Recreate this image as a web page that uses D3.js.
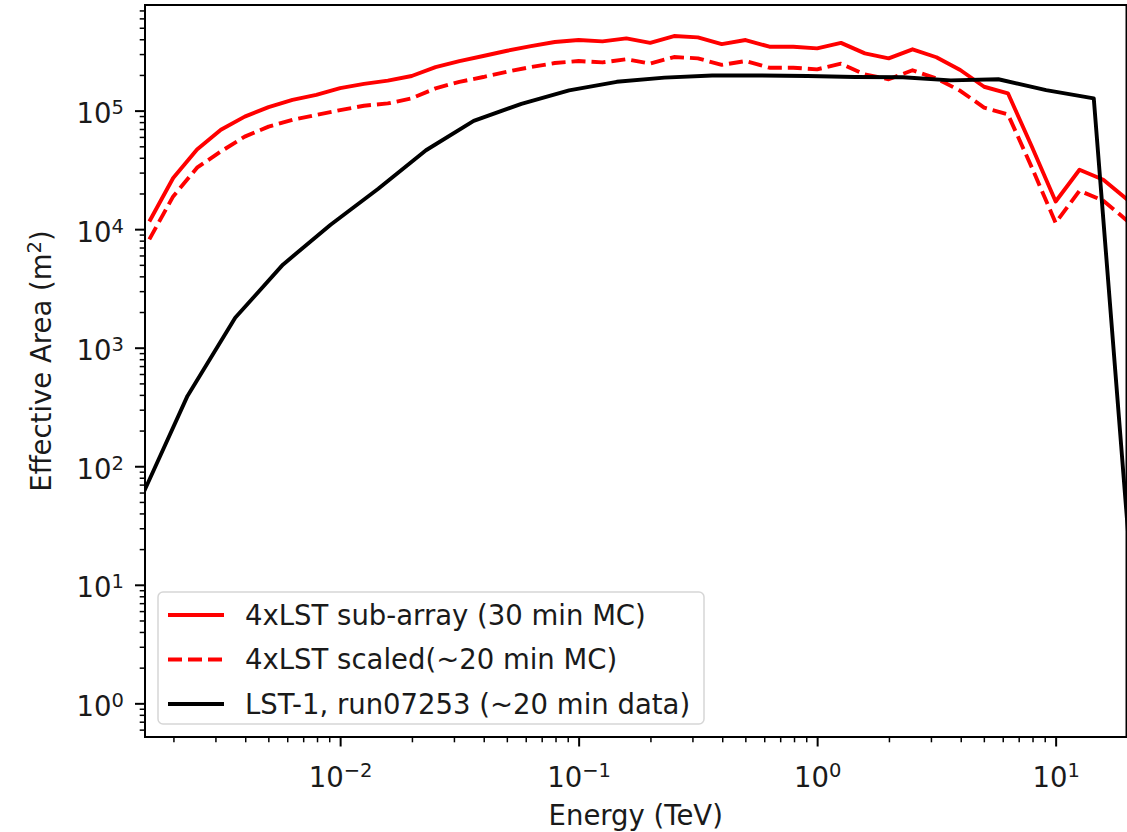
<!DOCTYPE html>
<html>
<head>
<meta charset="utf-8">
<script src="https://cdn.jsdelivr.net/npm/d3@7"></script>
<style>
    body { margin: 0; background: #fff; }
    svg { display: block; }
    text { font-family: "DejaVu Sans", sans-serif; fill: #1a1a1a; }
</style>
</head>
<body>
<div id="chart"></div>
<script>
// Energy bins of the MC curves (TeV)
const energyMC = [0.001585, 0.001995, 0.002512, 0.003162, 0.003981, 0.005012, 0.00631, 0.007943,
    0.01, 0.01259, 0.01585, 0.01995, 0.02512, 0.03162, 0.03981, 0.05012, 0.0631, 0.07943,
    0.1, 0.1259, 0.1585, 0.1995, 0.2512, 0.3162, 0.3981, 0.5012, 0.631, 0.7943,
    1.0, 1.259, 1.585, 1.995, 2.512, 3.162, 3.981, 5.012, 6.31, 7.943,
    10.0, 12.59, 15.85, 19.95];
// 4xLST sub-array (30 min MC), m^2
const areaMC30 = [1.16e4, 2.7e4, 4.7e4, 6.9e4, 8.9e4, 1.07e5, 1.23e5, 1.36e5,
    1.55e5, 1.68e5, 1.79e5, 1.96e5, 2.33e5, 2.62e5, 2.89e5, 3.2e5, 3.5e5, 3.79e5,
    3.94e5, 3.84e5, 4.07e5, 3.73e5, 4.26e5, 4.15e5, 3.64e5, 3.94e5, 3.46e5, 3.46e5,
    3.35e5, 3.73e5, 3.04e5, 2.76e5, 3.29e5, 2.82e5, 2.2e5, 1.59e5, 1.4e5, 4.98e4,
    1.71e4, 3.17e4, 2.61e4, 1.78e4];
// 4xLST scaled (~20 min MC), m^2
const areaMC20 = [8.2e3, 1.89e4, 3.3e4, 4.52e4, 6.04e4, 7.33e4, 8.35e4, 9.2e4,
    1.01e5, 1.1e5, 1.15e5, 1.27e5, 1.54e5, 1.75e5, 1.92e5, 2.13e5, 2.33e5, 2.52e5,
    2.62e5, 2.55e5, 2.71e5, 2.49e5, 2.83e5, 2.76e5, 2.43e5, 2.62e5, 2.3e5, 2.3e5,
    2.23e5, 2.49e5, 2.02e5, 1.84e5, 2.19e5, 1.87e5, 1.47e5, 1.06e5, 9.3e4, 3.32e4,
    1.13e4, 2.11e4, 1.74e4, 1.18e4];
// LST-1 run07253 data
const energyData = [0.001445, 0.002291, 0.003631, 0.005754, 0.00912, 0.01445, 0.02291, 0.03631,
    0.05754, 0.0912, 0.1445, 0.2291, 0.3631, 0.5754, 0.912, 1.445, 2.291, 3.631,
    5.754, 9.12, 14.45, 22.91];
const areaData = [51, 392, 1790, 5020, 1.09e4, 2.19e4, 4.63e4, 8.2e4,
    1.14e5, 1.48e5, 1.75e5, 1.9e5, 1.98e5, 1.98e5, 1.96e5, 1.92e5, 1.91e5, 1.8e5,
    1.84e5, 1.49e5, 1.27e5, 1.0];

const xDomain = [0.00152, 19.82];
const yDomain = [0.52, 7.78e5];
const xMajor = [1e-2, 1e-1, 1e0, 1e1];
const xMajorExp = ["\u22122", "\u22121", "0", "1"];
const yMajor = [1e0, 1e1, 1e2, 1e3, 1e4, 1e5];
const yMajorExp = ["0", "1", "2", "3", "4", "5"];

const series = [
    { label: "4xLST sub-array (30 min MC)", x: energyMC, y: areaMC30, color: "#ff0000", dash: null },
    { label: "4xLST scaled(~20 min MC)", x: energyMC, y: areaMC20, color: "#ff0000", dash: "14,6" },
    { label: "LST-1, run07253 (~20 min data)", x: energyData, y: areaData, color: "#000000", dash: null }
];

const dimensions = {
    width: 1127,
    height: 832,
    margin: { top: 5, right: 0.5, bottom: 95, left: 145 }
};
dimensions.containerWidth = dimensions.width - dimensions.margin.left - dimensions.margin.right;
dimensions.containerHeight = dimensions.height - dimensions.margin.top - dimensions.margin.bottom;

const fontSize = 27.5;
const supSize = fontSize * 0.71;
const lineWidth = 3.9;

const xScale = d3.scaleLog().domain(xDomain).range([0, dimensions.containerWidth]);
const yScale = d3.scaleLog().domain(yDomain).range([dimensions.containerHeight, 0]);

// minor ticks: 2..9 of every decade inside the domain
function minorTicks(domain) {
    const out = [];
    for (let e = Math.floor(Math.log10(domain[0])); e <= Math.ceil(Math.log10(domain[1])); e++) {
        for (let k = 2; k <= 9; k++) {
            const v = k * Math.pow(10, e);
            if (v >= domain[0] && v <= domain[1]) out.push(v);
        }
    }
    return out;
}

const svg = d3.select('#chart')
    .append('svg')
    .attr('width', dimensions.width)
    .attr('height', dimensions.height);

svg.append('rect').attr('width', dimensions.width).attr('height', dimensions.height).attr('fill', '#fff');

const container = svg.append('g')
    .attr('transform', `translate(${dimensions.margin.left}, ${dimensions.margin.top})`);

container.append('clipPath').attr('id', 'clip')
    .append('rect')
    .attr('width', dimensions.containerWidth)
    .attr('height', dimensions.containerHeight);

// Lines
const line = d3.line()
    .x(d => xScale(d[0]))
    .y(d => yScale(d[1]));

container.append('g')
    .attr('clip-path', 'url(#clip)')
    .selectAll('path')
    .data(series)
    .join('path')
    .attr('d', s => line(s.x.map((v, i) => [v, s.y[i]])))
    .attr('fill', 'none')
    .attr('stroke', s => s.color)
    .attr('stroke-width', lineWidth)
    .attr('stroke-dasharray', s => s.dash)
    .attr('stroke-linejoin', 'round');

// Axes
function styleAxis(g, width) {
    g.select('.domain').remove();
    g.selectAll('line').attr('stroke', '#000').attr('stroke-width', width);
}

container.append('g')
    .attr('transform', `translate(0, ${dimensions.containerHeight})`)
    .call(d3.axisBottom(xScale).tickValues(minorTicks(xDomain)).tickSize(5.3).tickFormat(''))
    .call(g => styleAxis(g, 1.5));

const xAxisGroup = container.append('g')
    .attr('transform', `translate(0, ${dimensions.containerHeight})`)
    .call(d3.axisBottom(xScale).tickValues(xMajor).tickSize(9.5).tickFormat(''))
    .call(g => styleAxis(g, 2));

xAxisGroup.selectAll('.tick').each(function(d, i) {
    const t = d3.select(this).append('text')
        .attr('y', 49.5)
        .attr('text-anchor', 'middle')
        .style('font-size', fontSize + 'px');
    t.append('tspan').text('10');
    t.append('tspan').text(xMajorExp[i])
        .attr('dy', -9.5)
        .style('font-size', supSize + 'px');
});

container.append('g')
    .call(d3.axisLeft(yScale).tickValues(minorTicks(yDomain)).tickSize(5.3).tickFormat(''))
    .call(g => styleAxis(g, 1.5));

const yAxisGroup = container.append('g')
    .call(d3.axisLeft(yScale).tickValues(yMajor).tickSize(10).tickFormat(''))
    .call(g => styleAxis(g, 2));

yAxisGroup.selectAll('.tick').each(function(d, i) {
    const t = d3.select(this).append('text')
        .attr('x', -21)
        .attr('y', 12)
        .attr('text-anchor', 'end')
        .style('font-size', fontSize + 'px');
    t.append('tspan').text('10');
    t.append('tspan').text(yMajorExp[i])
        .attr('dy', -9)
        .style('font-size', supSize + 'px');
});

// Frame
container.append('rect')
    .attr('width', dimensions.containerWidth)
    .attr('height', dimensions.containerHeight)
    .attr('fill', 'none')
    .attr('stroke', '#000')
    .attr('stroke-width', 2);

// Axis labels
svg.append('text')
    .attr('x', dimensions.margin.left + dimensions.containerWidth / 2)
    .attr('y', 825)
    .attr('text-anchor', 'middle')
    .style('font-size', fontSize + 'px')
    .text('Energy (TeV)');

const yLabel = svg.append('text')
    .attr('transform', `translate(51, ${dimensions.margin.top + dimensions.containerHeight / 2 - 10}) rotate(-90)`)
    .attr('text-anchor', 'middle')
    .style('font-size', fontSize + 'px');
yLabel.append('tspan').text('Effective Area (m');
yLabel.append('tspan').text('2').attr('dy', -10).style('font-size', supSize + 'px');
yLabel.append('tspan').text(')').attr('dy', 10);

// Legend
const legend = svg.append('g')
    .attr('transform', 'translate(158, 592)');
legend.append('rect')
    .attr('width', 546)
    .attr('height', 132)
    .attr('rx', 5)
    .attr('fill', 'rgba(255,255,255,0.8)')
    .attr('stroke', '#d6d6d6')
    .attr('stroke-width', 1.5);

const rows = legend.selectAll('g.row')
    .data(series)
    .join('g')
    .attr('class', 'row')
    .attr('transform', (d, i) => `translate(0, ${23 + i * 44.5})`);
rows.append('line')
    .attr('x1', 10).attr('x2', 66)
    .attr('stroke', d => d.color)
    .attr('stroke-width', lineWidth)
    .attr('stroke-dasharray', d => d.dash);
rows.append('text')
    .attr('x', 87)
    .attr('dy', '0.36em')
    .style('font-size', fontSize + 'px')
    .text(d => d.label);
</script>
</body>
</html>
